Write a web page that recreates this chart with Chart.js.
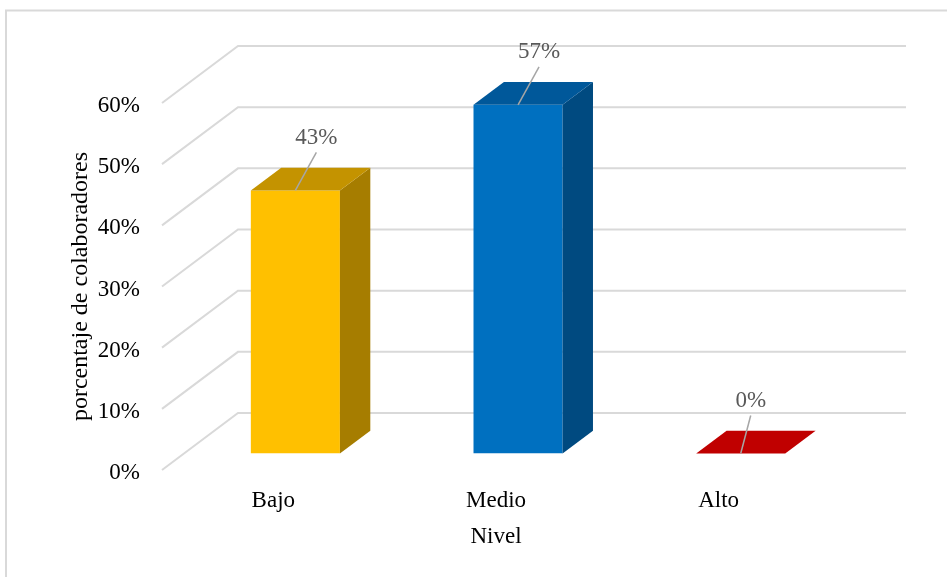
<!DOCTYPE html>
<html>
<head>
<meta charset="utf-8">
<script src="https://cdn.jsdelivr.net/npm/chart.js@4.4.1/dist/chart.umd.min.js"></script>
<style>
  html, body { margin: 0; padding: 0; background: #fff; }
  #wrap { width: 947px; height: 577px; position: relative; }
</style>
</head>
<body>
<div id="wrap"><canvas id="chart"></canvas></div>
<script>
// data
const niveles = ['Bajo', 'Medio', 'Alto'];
const porcentajes = [43, 57, 0];
const yTicks = [0, 10, 20, 30, 40, 50, 60];

// colours per bar: front / top / side
const frontColors = ['#FFC000', '#0070C0', '#C00000'];
const topColors = ['#C49300', '#00589A', '#C00000'];
const sideColors = ['#A67D00', '#004A80', '#A00000'];

const FONT = "'Liberation Serif', 'Times New Roman', serif";
const depth = { x: 76, y: -57 };   // floor depth (front -> back wall)
const barFront = 0.29;             // where the bar front sits inside the depth
const barDepth = 0.4;              // bar thickness in depth
const labelNudge = [0, 0, -11];    // small per-label shift like the original

const box3d = {
  id: 'box3d',
  beforeDraw(chart) {
    const ctx = chart.ctx;
    ctx.save();
    ctx.strokeStyle = '#d9d9d9';
    ctx.lineWidth = 2;
    ctx.strokeRect(6, 10.5, 1200, 1200);
    ctx.restore();
  },
  beforeDatasetsDraw(chart) {
    const { ctx, chartArea, scales } = chart;
    const y = scales.y;
    ctx.save();
    ctx.strokeStyle = '#d9d9d9';
    ctx.lineWidth = 2;
    yTicks.forEach(v => {
      const py = y.getPixelForValue(v);
      ctx.beginPath();
      ctx.moveTo(chartArea.left, py);
      ctx.lineTo(chartArea.left + depth.x, py + depth.y);
      ctx.lineTo(chartArea.right + depth.x, py + depth.y);
      ctx.stroke();
    });
    ctx.restore();
    // move the front faces into the middle of the depth
    ctx.save();
    ctx.translate(depth.x * barFront, depth.y * barFront);
  },
  afterDatasetsDraw(chart) {
    const ctx = chart.ctx;
    ctx.restore();
    const meta = chart.getDatasetMeta(0);
    const ox = depth.x * barFront, oy = depth.y * barFront;
    const dx = depth.x * barDepth, dy = depth.y * barDepth;
    meta.data.forEach((bar, i) => {
      const p = bar.getProps(['x', 'y', 'base', 'width'], true);
      const l = p.x - p.width / 2 + ox, r = p.x + p.width / 2 + ox;
      const t = p.y + oy, b = p.base + oy;
      ctx.save();
      // side face
      if (b - t > 0.5) {
        ctx.fillStyle = sideColors[i];
        ctx.beginPath();
        ctx.moveTo(r, t);
        ctx.lineTo(r + dx, t + dy);
        ctx.lineTo(r + dx, b + dy);
        ctx.lineTo(r, b);
        ctx.closePath();
        ctx.fill();
      }
      // top face
      ctx.fillStyle = topColors[i];
      ctx.beginPath();
      ctx.moveTo(l, t);
      ctx.lineTo(r, t);
      ctx.lineTo(r + dx, t + dy);
      ctx.lineTo(l + dx, t + dy);
      ctx.closePath();
      ctx.fill();

      // data label with leader line
      const cx = (l + r) / 2;
      const lx = cx + 21 + labelNudge[i];
      const ly = t - 38;
      ctx.strokeStyle = '#a6a6a6';
      ctx.lineWidth = 1.5;
      ctx.beginPath();
      ctx.moveTo(cx, t);
      ctx.lineTo(lx, ly);
      ctx.stroke();
      ctx.fillStyle = '#595959';
      ctx.font = '23px ' + FONT;
      ctx.textAlign = 'center';
      ctx.textBaseline = 'middle';
      ctx.fillText(porcentajes[i] + '%', lx, ly - 15);
      ctx.restore();
    });
  }
};

new Chart(document.getElementById('chart'), {
  type: 'bar',
  data: {
    labels: niveles,
    datasets: [{
      data: porcentajes,
      backgroundColor: frontColors,
      borderWidth: 0,
      barPercentage: 0.4,
      categoryPercentage: 1
    }]
  },
  options: {
    responsive: true,
    maintainAspectRatio: false,
    animation: false,
    events: [],
    layout: { padding: { left: 66, top: 103, right: 117, bottom: 26 } },
    plugins: {
      legend: { display: false },
      tooltip: { enabled: false }
    },
    scales: {
      x: {
        grid: { display: false, drawTicks: false },
        border: { display: false },
        ticks: { color: '#000', padding: 17, font: { family: FONT, size: 23 } },
        title: {
          display: true, text: 'Nivel', color: '#000',
          padding: 0, font: { family: FONT, size: 23 }
        },
        afterFit(s) { s.height = 81; }
      },
      y: {
        min: 0,
        max: 60,
        grid: { display: false, drawTicks: false },
        border: { display: false },
        ticks: {
          stepSize: 10, color: '#000', padding: 22, labelOffset: 3,
          font: { family: FONT, size: 23 },
          callback: v => v + '%'
        },
        title: {
          display: true, text: 'porcentaje de colaboradores', color: '#000',
          padding: 0, font: { family: FONT, size: 24 }
        },
        afterFit(s) { s.width = 96; }
      }
    }
  },
  plugins: [box3d]
});
</script>
</body>
</html>
